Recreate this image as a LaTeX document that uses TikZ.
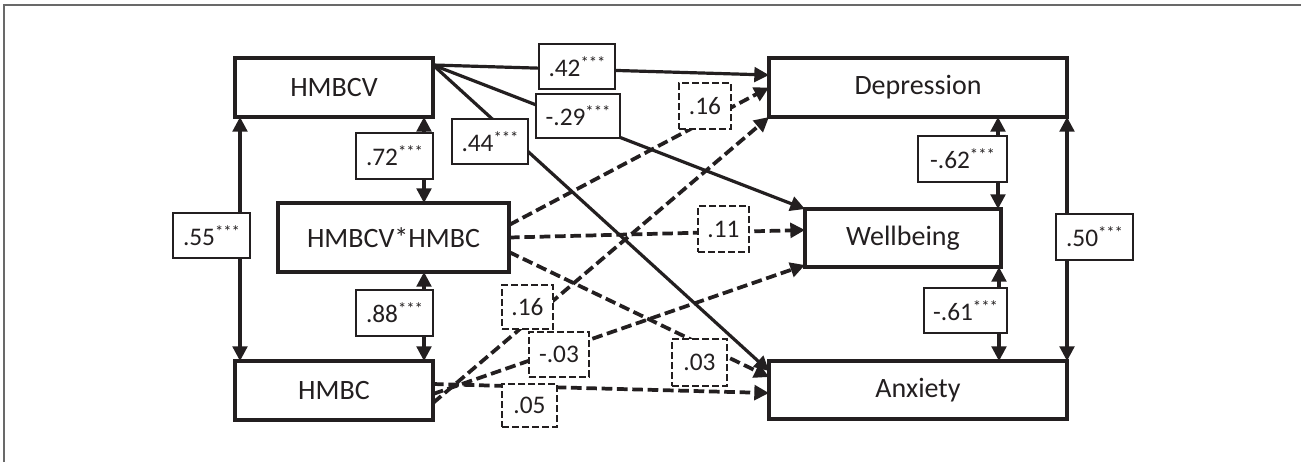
\documentclass[tikz,border=0pt]{standalone}
\usepackage{fontspec}
\setmainfont{Carlito}
\usetikzlibrary{arrows.meta,calc}
\definecolor{ink}{RGB}{35,31,32}
\definecolor{framec}{RGB}{105,105,105}
\newcommand{\stars}{\raisebox{6pt}{\fontsize{12.5}{12.5}\selectfont ***}}
\begin{document}
\begin{tikzpicture}[x=0.75pt,y=-0.75pt,
  sz/.style 2 args={minimum width=#1*0.75pt, minimum height=#2*0.75pt},
  box/.style={draw=ink, line width=3.2pt, fill=white, inner sep=0pt, outer sep=0pt, font=\fontsize{21}{25}\selectfont, text=ink},
  coef/.style={draw=ink, line width=1.6pt, fill=white, inner sep=0pt, font=\fontsize{19}{22}\selectfont, text=ink},
  ncoef/.style={coef, dash pattern=on 5pt off 2.5pt},
  tip/.tip={Triangle[length=11pt,width=11pt]},
  pathline/.style={draw=ink, line width=2.4pt, -tip},
  dpathline/.style={draw=ink, line width=2.8pt, -tip, dash pattern=on 8pt off 3.5pt},
  corr/.style={draw=ink, line width=2.4pt, tip-tip},
]
\useasboundingbox (0,0) rectangle (1301,462);
\draw[framec, line width=1.5pt] (4,462) -- (4,5) -- (1301,5);

% variables
\node[box, sz={198}{59}] (hmbcv) at (334,87.5) {HMBCV};
\node[box, sz={231}{69}] (inter) at (393.5,237.5) {HMBCV*HMBC};
\node[box, sz={198}{59}] (hmbc) at (334,390.5) {HMBC};
\node[box, sz={298}{59}] (dep) at (918,87.5) {Depression};
\node[box, sz={196}{58}] (wb) at (903,238) {Wellbeing};
\node[box, sz={298}{58}] (anx) at (918,390) {Anxiety};

% helper coordinates
\coordinate (s) at ($(hmbcv.north east)+(0,7)$);
\coordinate (c55) at ($(hmbcv.south west)+(5,0)$);
\coordinate (c72) at ($(hmbcv.south east)+(-9,0)$);
\coordinate (c88) at ($(hmbc.north east)+(-9,0)$);
\coordinate (c62) at ($(wb.north east)+(-3,0)$);
\coordinate (c61) at ($(wb.south east)+(-2,0)$);

% paths
\draw[pathline] (s) -- ($(dep.west)+(0,-12.5)$);
\draw[pathline] (s) -- (wb.north west);
\draw[pathline] (s) -- ($(anx.north west)+(0,10)$);
\draw[dpathline] ($(inter.east)+(0,-12.5)$) -- (dep.west);
\draw[dpathline] (inter.east) -- ($(wb.west)+(0,-8)$);
\draw[dpathline] ($(inter.east)+(0,14.5)$) -- ($(anx.north west)+(0,16)$);
\draw[dpathline] ($(hmbc.east)+(0,12.5)$) -- (dep.south west);
\draw[dpathline] ($(hmbc.east)+(0,3.5)$) -- ($(wb.south west)+(0,-2)$);
\draw[dpathline] ($(hmbc.east)+(0,-6.5)$) -- ($(anx.west)+(0,3)$);

% correlations
\draw[corr] (c55) -- (c55 |- hmbc.north);
\draw[corr] (c72) -- (c72 |- inter.north);
\draw[corr] (c88 |- inter.south) -- (c88);
\draw[corr] (c62 |- dep.south) -- (c62);
\draw[corr] (c61) -- (c61 |- anx.north);
\draw[corr] (dep.south east) -- (anx.north east);

% coefficient labels
\node[coef, sz={76}{45}] (l42) at (577,66.5) {.42\stars};
\node[coef, sz={84}{44}] (l29) at (578,116) {-.29\stars};
\node[coef, sz={76}{45}] (l44) at (490,141.5) {.44\stars};
\node[coef, sz={77}{46}] (l72) at (394.5,156) {.72\stars};
\node[coef, sz={77}{45}] (l55) at (211.5,235.5) {.55\stars};
\node[coef, sz={77}{46}] (l88) at (394.5,313) {.88\stars};
\node[coef, sz={89}{46}] (l62) at (962.5,159) {-.62\stars};
\node[coef, sz={77}{46}] (l50) at (1094.5,237) {.50\stars};
\node[coef, sz={83}{45}] (l61) at (965.5,310.5) {-.61\stars};
\node[ncoef, sz={52}{46}] (l16a) at (705,106) {.16};
\node[ncoef, sz={51}{46}] (l11) at (723.5,229) {.11};
\node[ncoef, sz={55}{47}] (l03) at (699.5,362.5) {.03};
\node[ncoef, sz={51}{44}] (l16b) at (527.5,307) {.16};
\node[ncoef, sz={60}{45}] (l03n) at (559,354.5) {-.03};
\node[ncoef, sz={55}{43}] (l05) at (529.5,405.5) {.05};
\end{tikzpicture}
\end{document}
